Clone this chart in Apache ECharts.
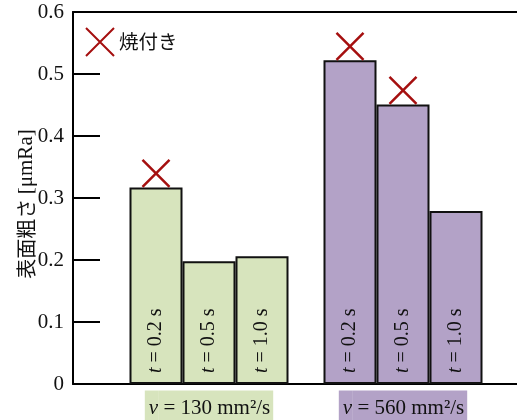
<!DOCTYPE html>
<html>
<head>
<meta charset="utf-8">
<script src="https://cdn.jsdelivr.net/npm/echarts@6/dist/echarts.min.js"></script>
<style>
  html, body { margin: 0; padding: 0; background: #fff; }
  #chart { width: 517px; height: 420px; }
</style>
</head>
<body>
<div id="chart"></div>
<script>
// Kinematic viscosity groups (mm²/s) and heating times (s)
const viscosities = ['130', '560'];
const heatTimes = ['0.2', '0.5', '1.0'];

// Surface roughness [μmRa] per heating time, one value per viscosity group
const roughT02 = [0.317, 0.522];
const roughT05 = [0.198, 0.451];
const roughT10 = [0.206, 0.279];

// Seizure observed (焼付き) per heating time, one flag per viscosity group
const seizureT02 = [true, true];
const seizureT05 = [false, true];
const seizureT10 = [false, false];

// Y axis range and step
const yMin = 0;
const yMax = 0.6;
const yStep = 0.1;

const SERIF = '"Liberation Serif", "Times New Roman", serif';
const SANS = '"Noto Sans CJK JP", "Noto Sans", sans-serif';
const groupColors = ['#d7e4bd', '#b3a2c7'];
const markRed = '#a50f0f';
const BAR_W = 53;

const roughness = [roughT02, roughT05, roughT10];
const seizure = [seizureT02, seizureT05, seizureT10];

const barSeries = heatTimes.map((t, k) => ({
  type: 'bar',
  name: 't = ' + t + ' s',
  xAxisIndex: 2,
  yAxisIndex: 1,
  barWidth: BAR_W,
  barGap: '0%',
  data: roughness[k],
  itemStyle: {
    color: p => groupColors[p.dataIndex],
    borderColor: '#111',
    borderWidth: 2
  },
  label: {
    show: true,
    position: 'insideBottom',
    rotate: 90,
    align: 'left',
    verticalAlign: 'middle',
    distance: 11,
    formatter: '{i|t} = ' + t + ' s',
    fontFamily: SERIF,
    fontSize: 20,
    color: '#111',
    rich: {
      i: { fontFamily: SERIF, fontSize: 20, fontStyle: 'italic', color: '#111' }
    }
  }
}));

// X marks sit over the bars where seizure occurred
const seizureData = [];
seizure.forEach((flags, k) => {
  flags.forEach((hit, c) => {
    if (hit) {
      seizureData.push({
        value: [c, roughness[k][c]],
        symbolOffset: [(k - 1) * BAR_W, -14]
      });
    }
  });
});

const chart = echarts.init(document.getElementById('chart'), null, { renderer: 'canvas' });

const frameAxis = (position) => ({
  gridIndex: 0,
  type: 'value',
  position: position,
  min: 0,
  max: 1,
  axisLine: { show: true, onZero: false, lineStyle: { color: '#000', width: 2 } },
  axisTick: { show: false },
  axisLabel: { show: false },
  splitLine: { show: false }
});

const boxToken = (bg, italic, pad) => ({
  fontFamily: SERIF,
  fontSize: 21,
  fontStyle: italic ? 'italic' : 'normal',
  color: '#111',
  backgroundColor: bg,
  padding: pad,
  lineHeight: 22
});

chart.setOption({
  animation: false,
  backgroundColor: '#fff',
  grid: [
    { left: 73, right: 0, top: 12, bottom: 36, outerBoundsMode: 'none' },
    { left: 112, right: 17, top: 12, bottom: 36, outerBoundsMode: 'none' }
  ],
  legend: {
    data: ['焼付き'],
    left: 80,
    top: 22,
    itemWidth: 28,
    itemHeight: 28,
    textStyle: { fontFamily: SANS, fontSize: 19.5, color: '#111' }
  },
  xAxis: [
    frameAxis('bottom'),
    frameAxis('top'),
    {
      gridIndex: 1,
      type: 'category',
      data: viscosities,
      axisLine: { show: false },
      axisTick: { show: false },
      splitLine: { show: false },
      axisLabel: {
        margin: 13,
        interval: 0,
        formatter: (v, i) => {
          const s = i === 0 ? 'g' : 'p';
          return '{' + s + 'i|ν}{' + s + '| = ' + v + ' mm²/s}';
        },
        rich: {
          gi: boxToken(groupColors[0], true, [7, 0, 7, 4]),
          g: boxToken(groupColors[0], false, [7, 3, 7, 0]),
          pi: boxToken(groupColors[1], true, [7, 0, 7, 4]),
          p: boxToken(groupColors[1], false, [7, 3, 7, 0])
        }
      }
    }
  ],
  yAxis: [
    {
      gridIndex: 0,
      type: 'value',
      min: yMin,
      max: yMax,
      interval: yStep,
      name: '{c|表面粗さ }{s|[μmRa]}',
      nameLocation: 'middle',
      nameRotate: 90,
      nameGap: 36,
      nameMoveOverlap: false,
      nameTextStyle: {
        rich: {
          c: { fontFamily: SANS, fontSize: 20, color: '#111' },
          s: { fontFamily: SERIF, fontSize: 21, color: '#111', padding: [0, 12, 0, 0] }
        }
      },
      axisLine: { show: true, lineStyle: { color: '#000', width: 2 } },
      axisTick: { show: true, inside: true, length: 27, lineStyle: { color: '#000', width: 2 } },
      axisLabel: { fontFamily: SERIF, fontSize: 21, color: '#111', margin: 9 },
      splitLine: { show: false }
    },
    {
      gridIndex: 1,
      type: 'value',
      min: yMin,
      max: yMax,
      interval: yStep,
      show: false,
      splitLine: { show: false }
    }
  ],
  series: barSeries.concat([{
    type: 'scatter',
    name: '焼付き',
    xAxisIndex: 2,
    yAxisIndex: 1,
    symbol: 'path://M0,0L10,10M10,0L0,10',
    symbolSize: [27, 27],
    itemStyle: { color: 'rgba(0,0,0,0)', borderColor: markRed, borderWidth: 2.5, opacity: 1 },
    data: seizureData,
    z: 5
  }])
});
</script>
</body>
</html>
